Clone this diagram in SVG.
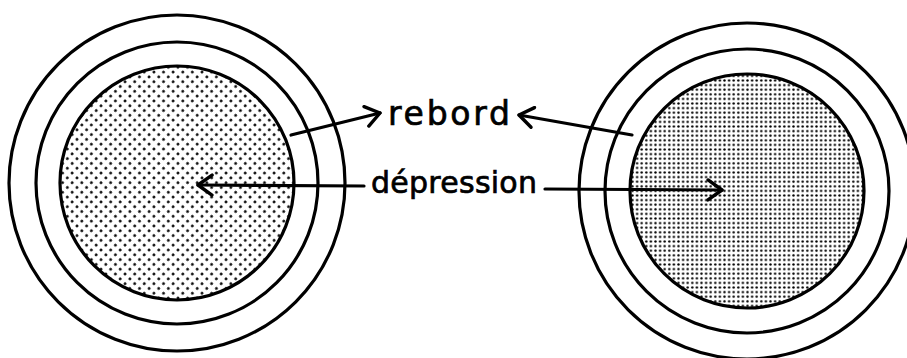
<svg xmlns="http://www.w3.org/2000/svg" width="907" height="358" viewBox="0 0 907 358">
<style>
.ring{fill:none;stroke:#000;stroke-width:3.2}
.dep{stroke:#000;stroke-width:3.2}
.ln{fill:none;stroke:#000;stroke-width:3.2;stroke-linecap:round;stroke-linejoin:round}
.lbl{font-family:"DejaVu Sans","Liberation Sans",sans-serif;fill:#000;stroke:#000;stroke-width:0.7}
</style>
<defs>
<pattern id="dotsL" width="6.8" height="6.8" patternUnits="userSpaceOnUse" patternTransform="rotate(45)">
<rect width="6.8" height="6.8" fill="#fff"/>
<circle cx="3.4" cy="3.4" r="1.35" fill="#000"/>
</pattern>
<pattern id="dotsR" width="4.6" height="4.6" patternUnits="userSpaceOnUse">
<rect width="4.6" height="4.6" fill="#fff"/>
<circle cx="2.3" cy="2.3" r="1.2" fill="#000"/>
</pattern>
<marker id="chev" viewBox="-16 -12 18 24" markerWidth="18" markerHeight="24" refX="0" refY="0" orient="auto" markerUnits="userSpaceOnUse">
<path d="M-14,-10 L0,0 L-14,10" fill="none" stroke="#000" stroke-width="3.4" stroke-linecap="round" stroke-linejoin="round"/>
</marker>
</defs>
<rect width="907" height="358" fill="#fff"/>
<g id="left-crater">
<circle class="ring" cx="177" cy="183" r="168"/>
<circle class="ring" cx="177" cy="183" r="141"/>
<circle class="dep" cx="177" cy="183" r="117" fill="url(#dotsL)"/>
</g>
<g id="right-crater">
<circle class="ring" cx="747" cy="191" r="168"/>
<circle class="ring" cx="747" cy="191" r="142"/>
<circle class="dep" cx="747" cy="191" r="117" fill="url(#dotsR)"/>
</g>
<g id="label-rebord">
<text class="lbl" x="388" y="125" font-size="33" textLength="122" lengthAdjust="spacing">rebord</text>
</g>
<g id="label-depression">
<text class="lbl" x="371" y="193" font-size="30" textLength="166" lengthAdjust="spacing">dépression</text>
</g>
<g id="connectors">
<line class="ln" x1="291" y1="135" x2="380" y2="113" marker-end="url(#chev)"/>
<line class="ln" x1="632" y1="135" x2="519" y2="115" marker-end="url(#chev)"/>
<line class="ln" x1="364" y1="186" x2="198" y2="185" marker-end="url(#chev)"/>
<line class="ln" x1="545" y1="189" x2="722" y2="190" marker-end="url(#chev)"/>
</g>
</svg>
